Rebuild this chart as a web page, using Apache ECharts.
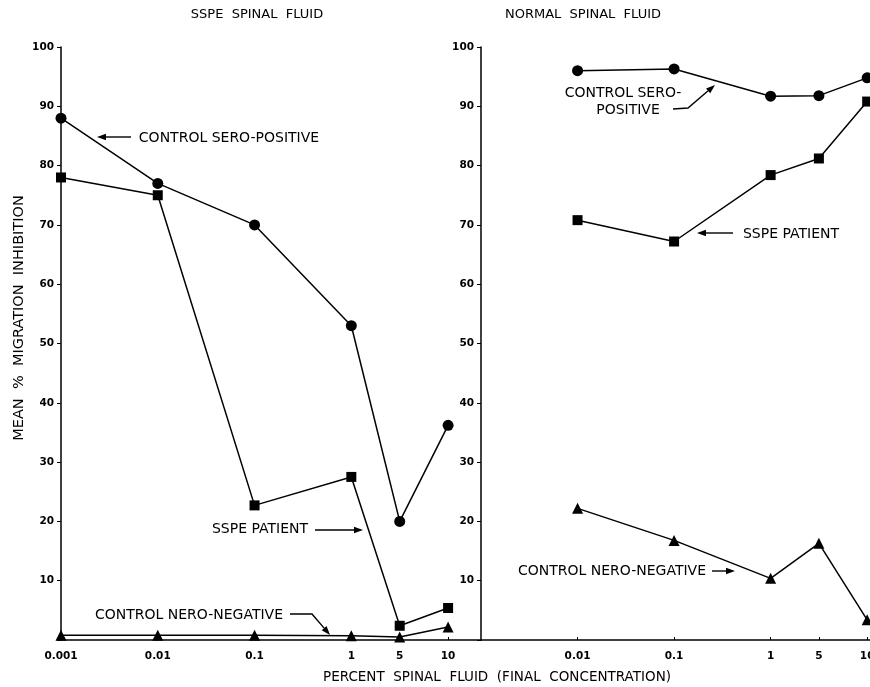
<!DOCTYPE html>
<html>
<head>
<meta charset="utf-8">
<script src="https://cdn.jsdelivr.net/npm/echarts@6/dist/echarts.min.js"></script>
<style>
html,body{margin:0;padding:0;background:#fff;}
#chart{width:870px;height:687px;}
</style>
</head>
<body>
<div id="chart"></div>
<script>
// ---- data ----
const leftLabels = ['0.001', '0.01', '0.1', '1', '5', '10'];
const leftPos = [0, 1, 2, 3, 3.5, 4];          // axis positions (decades; 5 drawn midway)
const rightLabels = ['0.01', '0.1', '1', '5', '10'];
const rightPos = [1, 2, 3, 3.5, 4];
const yTicks = [10, 20, 30, 40, 50, 60, 70, 80, 90, 100];

const sspeSeroPositive = [88, 77, 70, 53, 20, 36.2];
const sspePatient = [78, 75, 22.7, 27.5, 2.4, 5.4];
const sspeSeroNegative = [0.8, 0.8, 0.8, 0.7, 0.5, 2.2];

const normalSeroPositive = [96.0, 96.3, 91.7, 91.8, 94.8];
const normalPatient = [70.8, 67.2, 78.4, 81.2, 90.8];
const normalSeroNegative = [22.2, 16.8, 10.4, 16.3, 3.4];

// ---- chart ----
const FONT = 'DejaVu Sans';
const pairs = (xs, ys) => xs.map((x, i) => [x, ys[i]]);

function xAxis(gridIndex, max, pos, labels) {
  return {
    type: 'value', gridIndex, min: 0, max,
    axisLine: { lineStyle: { color: '#000', width: 1.5 } },
    axisTick: { show: true, inside: true, length: 3, customValues: pos, lineStyle: { color: '#000' } },
    axisLabel: {
      customValues: pos, margin: 11, color: '#000', fontFamily: FONT, fontWeight: 'bold', fontSize: 10.5,
      formatter: v => { const i = pos.indexOf(v); return i >= 0 ? labels[i] : ''; }
    },
    splitLine: { show: false }
  };
}
function yAxis(gridIndex) {
  return {
    type: 'value', gridIndex, min: 0, max: 100, interval: 10,
    axisLine: { show: true, lineStyle: { color: '#000', width: 1.5 } },
    axisTick: { show: true, length: 4, lineStyle: { color: '#000' } },
    axisLabel: {
      margin: 7, color: '#000', fontFamily: FONT, fontWeight: 'bold', fontSize: 10.5,
      formatter: v => (yTicks.indexOf(v) >= 0 ? String(v) : '')
    },
    splitLine: { show: false }
  };
}
function line(xi, data, symbol, size) {
  return {
    type: 'line', xAxisIndex: xi, yAxisIndex: xi, data, symbol, symbolSize: size,
    clip: false, animation: false,
    lineStyle: { color: '#000', width: 1.5 },
    itemStyle: { color: '#000' }
  };
}

function txt(x, y, s, size, extra) {
  return Object.assign({
    type: 'text', x, y,
    style: { text: s, fill: '#000', font: (size || 14) + 'px ' + FONT, textAlign: 'center', textVerticalAlign: 'middle' }
  }, extra || {});
}
function arrow(points) {
  const n = points.length;
  const [x1, y1] = points[n - 2], [x2, y2] = points[n - 1];
  const a = Math.atan2(y2 - y1, x2 - x1), L = 9, W = 3.2;
  const bx = x2 - L * Math.cos(a), by = y2 - L * Math.sin(a);
  const head = [[x2, y2], [bx + W * Math.sin(a), by - W * Math.cos(a)], [bx - W * Math.sin(a), by + W * Math.cos(a)]];
  return [
    { type: 'polyline', shape: { points: points.slice(0, n - 1).concat([[bx, by]]) }, style: { stroke: '#000', lineWidth: 1.4, fill: null } },
    { type: 'polygon', shape: { points: head }, style: { fill: '#000' } }
  ];
}

const graphics = [
  txt(257, 15, 'SSPE  SPINAL  FLUID', 13),
  txt(583, 15, 'NORMAL  SPINAL  FLUID', 13),
  txt(497, 677, 'PERCENT  SPINAL  FLUID  (FINAL  CONCENTRATION)', 13.5),
  txt(19, 318, 'MEAN  %  MIGRATION  INHIBITION', 14.5, { rotation: Math.PI / 2 }),
  txt(229, 138, 'CONTROL SERO-POSITIVE', 14),
  txt(260, 529, 'SSPE PATIENT', 14),
  txt(189, 615, 'CONTROL NERO-NEGATIVE', 14),
  txt(623, 93, 'CONTROL SERO-', 14),
  txt(628, 110, 'POSITIVE', 14),
  txt(791, 234, 'SSPE PATIENT', 14),
  txt(612, 571, 'CONTROL NERO-NEGATIVE', 14)
].concat(
  arrow([[131, 137], [97, 137]]),
  arrow([[315, 530], [363, 530]]),
  arrow([[290, 614], [312, 614], [330, 635]]),
  arrow([[673, 109], [688, 108], [715, 85]]),
  arrow([[733, 233], [697, 233]]),
  arrow([[712, 571], [735, 571]])
);

const chart = echarts.init(document.getElementById('chart'), null, { renderer: 'canvas' });
chart.setOption({
  backgroundColor: '#fff',
  animation: false,
  grid: [
    { left: 61, top: 47, width: 420, height: 593, outerBoundsMode: 'none', containLabel: false },
    { left: 481, top: 47, width: 391, height: 593, outerBoundsMode: 'none', containLabel: false }
  ],
  xAxis: [xAxis(0, 4.34, leftPos, leftLabels), xAxis(1, 4.05, rightPos, rightLabels)],
  yAxis: [yAxis(0), yAxis(1)],
  series: [
    line(0, pairs(leftPos, sspeSeroPositive), 'circle', 11),
    line(0, pairs(leftPos, sspePatient), 'rect', 10),
    line(0, pairs(leftPos, sspeSeroNegative), 'triangle', 11),
    line(1, pairs(rightPos, normalSeroPositive), 'circle', 11),
    line(1, pairs(rightPos, normalPatient), 'rect', 10),
    line(1, pairs(rightPos, normalSeroNegative), 'triangle', 11)
  ],
  graphic: graphics
});
</script>
</body>
</html>
